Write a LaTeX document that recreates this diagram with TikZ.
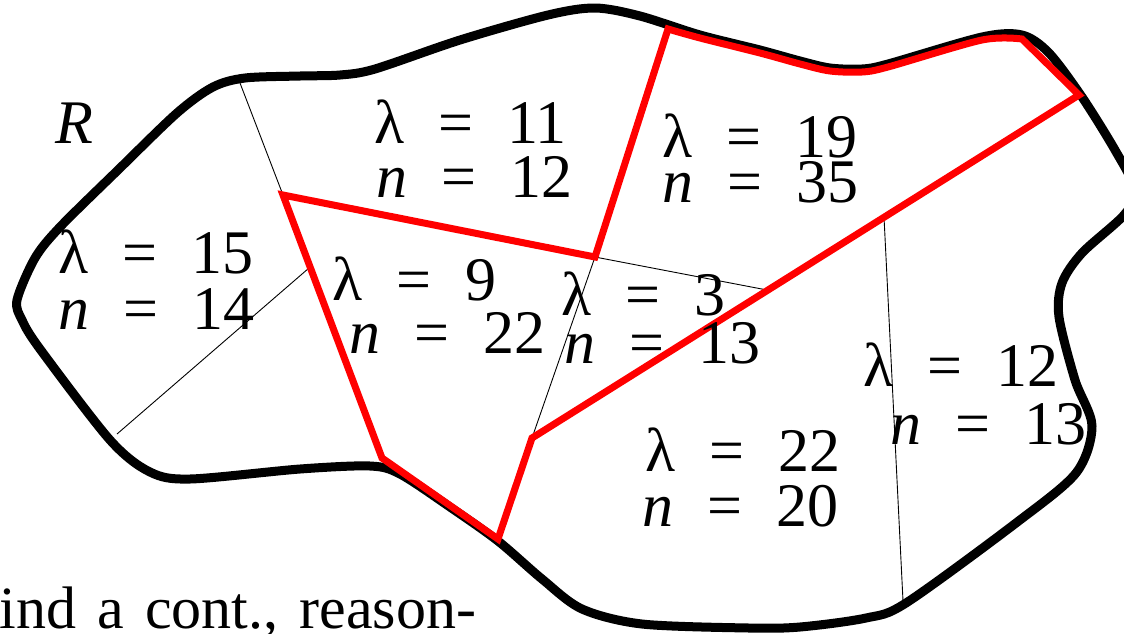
\documentclass[tikz,border=0pt]{standalone}
\usepackage{fontspec}
\setmainfont{Liberation Serif}
\newcommand\lamlab[1]{λ\hspace{0.55em}=\hspace{0.55em}#1}
\newcommand\nlab[1]{\textit{n}\hspace{0.55em}=\hspace{0.55em}#1}
\begin{document}
\begin{tikzpicture}[x=1pt,y=-1pt,
  outline/.style={line width=9pt, line join=round},
  redline/.style={line width=7pt, red, line join=miter},
  thin/.style={line width=0.9pt},
  lab/.style={anchor=base west, inner sep=0pt, outer sep=0pt, font=\fontsize{62}{62}\selectfont},
  bottomtext/.style={anchor=base west, inner sep=0pt, outer sep=0pt, font=\fontsize{60}{60}\selectfont}]
\useasboundingbox (0,0) rectangle (1124,633);
\clip (0,0) rectangle (1124,633);
% region outline
\draw[outline] plot[smooth cycle, tension=0.5] coordinates {
(17,300) (35,258) (60,227) (118,170) (177,113) (213,87) (245,78) (300,76) (340,75) (375,69)
(460,40) (548,15) (595,8) (640,16) (700,35) (760,50) (800,61) (830,68) (862,69) (888,64) (982,37)
(1022,35) (1049,53) (1082,97) (1115,150) (1135,190) (1124,215) (1082,253) (1062,283)
(1059,317) (1075,380) (1092,426) (1076,473) (1016,523) (906,603) (866,618) (800,627)
(749,628) (642,624) (582,609) (542,579) (498,541) (450,507) (400,474) (370,466) (300,469)
(190,479) (150,472) (110,440) (40,349) (22,320)};
% named points
\coordinate (A) at (283,195);
\coordinate (B) at (595,257);
\coordinate (C) at (668,29);
\coordinate (D) at (1079,95);
\coordinate (E) at (532,438);
\coordinate (F) at (498,539);
\coordinate (G) at (382,458);
\coordinate (T1) at (240,83);
\coordinate (T2) at (117,434);
\coordinate (T3) at (309,268);
\coordinate (T4) at (767,290);
\coordinate (T5) at (884,217);
\coordinate (T6) at (903,601);
% thin dividing lines
\draw[thin] (T1) -- (A);
\draw[thin] (T2) -- (T3);
\draw[thin] (B) -- (T4);
\draw[thin] (B) -- (E);
\draw[thin] (T5) -- (T6);
% red path
\draw[redline] (A) -- (B) -- (C) -- plot[smooth, tension=0.5] coordinates {(668,29) (700,38) (760,53) (800,64) (830,71) (862,72) (888,67) (982,40) (1022,39)} -- (D) -- (E) -- (F) -- (G) -- cycle;
% labels
\node[lab] (R) at (55,143) {\textit{R}};
\node[lab] (l15) at (58,273) {\lamlab{15}};
\node[lab] (n14) at (58,329) {\nlab{14}};
\node[lab] (l11) at (374,143) {\lamlab{11}};
\node[lab] (n12) at (376,197) {\nlab{12}};
\node[lab] (l19) at (662,157) {\lamlab{19}};
\node[lab] (n35) at (662,202) {\nlab{35}};
\node[lab] (l9) at (332,300) {\lamlab{9}};
\node[lab] (n22) at (349,353) {\nlab{22}};
\node[lab] (l3) at (561,315) {\lamlab{3}};
\node[lab] (n13) at (564,363) {\nlab{13}};
\node[lab] (l12) at (863,386) {\lamlab{12}};
\node[lab] (n13b) at (890,444) {\nlab{13}};
\node[lab] (l22) at (645,471) {\lamlab{22}};
\node[lab] (n20) at (642,526) {\nlab{20}};
\node[bottomtext] (txt) at (-20,628) {f\kern0pt ind\hspace{0.35em}a\hspace{0.35em}cont.,\hspace{0.35em}reason-};
\end{tikzpicture}
\end{document}
